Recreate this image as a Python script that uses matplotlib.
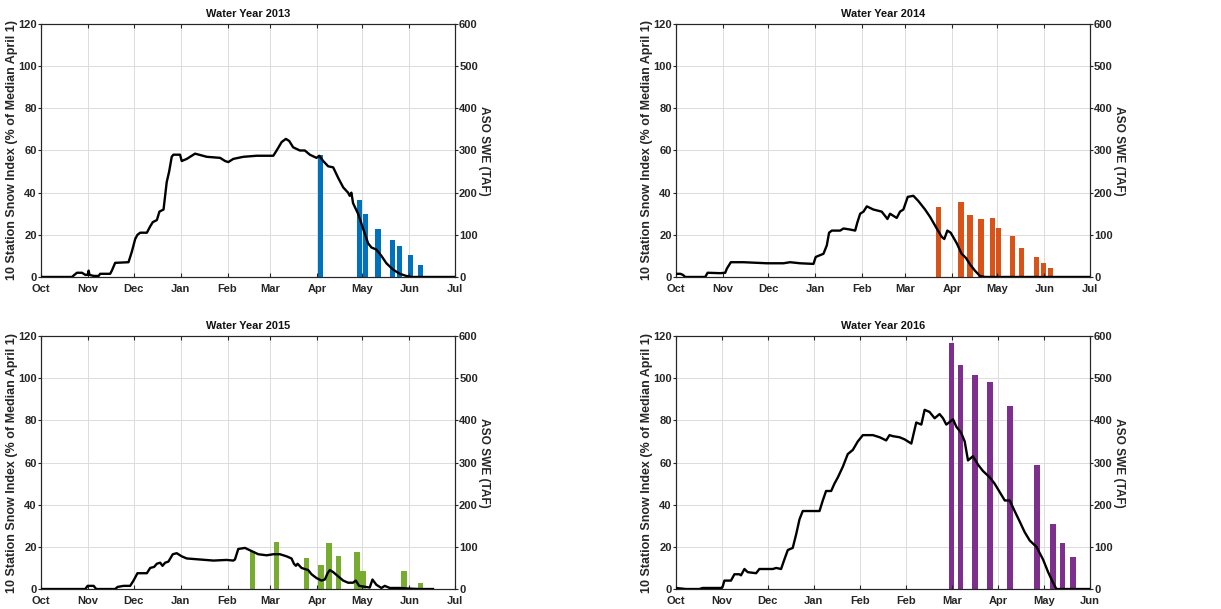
import matplotlib
matplotlib.use("Agg")
import matplotlib.pyplot as plt

plt.rcParams['font.family'] = ['Liberation Sans', 'DejaVu Sans']
plt.rcParams['font.weight'] = 'bold'

# ---------------- data (x = days since Oct 1) ----------------
titles = ["Water Year 2013", "Water Year 2014", "Water Year 2015", "Water Year 2016"]
bar_colors = ["#0072BD", "#D95319", "#77AC30", "#7E2F8E"]

month_ticks = [0, 31, 61, 92, 123, 151, 182, 212, 243, 273]
month_labels = ["Oct", "Nov", "Dec", "Jan", "Feb", "Mar", "Apr", "May", "Jun", "Jul"]
ticks_2016 = [11, 39, 67, 95, 123, 151, 179, 207, 235, 263]
labels_2016 = ["Oct", "Nov", "Dec", "Jan", "Feb", "Feb", "Mar", "Apr", "May", "Jun"]

idx_days_2013 = [0, 20.4, 22, 23.7, 27, 29.2, 30.7, 31.4, 32, 34.7, 38, 39, 45.6, 46.7, 48.9, 57.7,
                 59.9, 62.1, 63.6, 65.4, 69.8, 72, 73.7, 76.4, 78.1, 80.8, 82.9, 84.5, 86.2, 87.3,
                 91.7, 92.8, 96.1, 99.4, 101.6, 109.3, 118.1, 121.4, 123.5, 126.8, 133.4, 142.2,
                 153.2, 155.4, 158.7, 161.5, 163.7, 166.3, 170.7, 174, 177.3, 181.7, 183.5, 186.1,
                 189.4, 192.7, 196, 199.3, 202.5, 203.6, 204.7, 205.8, 209.1, 212.4, 215.7, 217.9,
                 221.2, 224.5, 227.8, 232.2, 236.6, 240.9, 244.2, 273]
idx_vals_2013 = [0, 0, 1, 2, 2, 1, 1, 3, 1, 0.5, 0.5, 1.5, 1.5, 3, 6.7, 7,
                 12, 18, 20, 21, 21, 24, 26, 27, 31, 32, 45, 50, 57, 58,
                 58, 55, 56, 57.5, 58.5, 57, 56.5, 55, 54.5, 56, 57, 57.5,
                 57.5, 60, 64, 65.5, 64.5, 61.5, 60, 60, 58, 56.5, 57.5, 55,
                 52.5, 52, 47, 42.5, 40, 38.5, 40, 35, 30, 23, 16, 14,
                 13, 10, 6.5, 3.5, 1.5, 0.5, 0, 0]
aso_days_2013 = [184.3, 210.2, 214.2, 222.3, 231.7, 236.6, 243.6, 250.4]
aso_taf_2013 = [290, 183, 149, 114, 87, 73, 51, 28]

idx_days_2014 = [0, 2.9, 4.6, 6.1, 19.3, 20.9, 29.2, 32.5, 33.6, 36.2, 44.6, 60, 70.9, 75.3, 81.9,
                 90.7, 92.2, 97.3, 99.5, 101, 102.8, 108.3, 110.5, 114.9, 118.2, 119.7, 121.5,
                 123.7, 125.9, 130.2, 135.7, 137.9, 139.5, 141.2, 145.6, 147.8, 150, 152.9, 156.6,
                 159.9, 164.3, 167.6, 172, 175.3, 177, 179, 181.2, 185.2, 188.4, 191.3, 193.9,
                 197.2, 200.5, 203.8, 273]
idx_vals_2014 = [1.5, 1.5, 1, 0, 0, 2, 1.8, 2, 4, 7, 7, 6.5, 6.5, 7, 6.5,
                 6.2, 9.5, 11, 15, 21, 22, 22, 23, 22.5, 22, 26, 30,
                 31, 33.5, 32, 31, 29, 27.5, 30, 28, 31, 32, 38, 38.5,
                 36, 32, 28.5, 23, 19, 18, 22, 21, 16, 11, 9, 6,
                 3, 0.5, 0, 0]
aso_days_2014 = [173.1, 188, 193.9, 201.2, 208.9, 212.8, 221.8, 228, 237.9, 242.3, 247.1]
aso_taf_2014 = [167, 179, 146, 138, 140, 116, 98, 69, 47, 33, 21]

idx_days_2015 = [0, 29.2, 30.7, 34.7, 36.4, 48.9, 50.5, 54.4, 58.8, 61, 63.6, 69.8, 72, 74.6, 76.4,
                 78.6, 80.1, 81.9, 84, 86.9, 89.5, 92.8, 96.1, 104.9, 113.7, 122.4, 126.8, 127.9,
                 130.1, 134.5, 138.9, 143.3, 148.8, 153.2, 157.6, 162, 165.2, 166.8, 168.1, 169.2,
                 171.8, 176.2, 178.4, 181.7, 185, 187.2, 189, 190.5, 192.7, 196, 199.3, 202.5,
                 205.8, 207.6, 209.8, 216.8, 218.6, 221.2, 224.5, 226.7, 230, 236.6, 243.1,
                 249.7, 258.5]
idx_vals_2015 = [0, 0, 1.5, 1.5, 0, 0, 1, 1.5, 1.5, 4, 7.5, 7.5, 10, 10.5, 12,
                 12.5, 11, 12.5, 13, 16.5, 17, 15.5, 14.5, 14, 13.5, 13.8, 13.5, 14,
                 19, 19.5, 18, 16.5, 16, 16.5, 16.5, 15.5, 14.5, 12, 11, 12,
                 10, 9, 7, 5.2, 4, 4.5, 7.5, 9, 8, 6, 4, 3,
                 3, 4, 1.5, 0.7, 4.5, 2, 0.5, 1.5, 0.5, 0.5, 0.2,
                 0, 0]
aso_days_2015 = [139.3, 155.4, 175.3, 184.6, 190, 196.2, 208.5, 212.4, 239.4, 250.4]
aso_taf_2015 = [89, 112, 74, 56, 108, 79, 87, 43, 43, 14]

idx_days_2016 = [11, 17.1, 21.2, 25.2, 27.3, 38.4, 39.4, 40.5, 44.5, 46.6, 49.6, 50.6, 52.7, 54.7,
                 59.8, 61.8, 70, 72, 75, 77, 79.1, 82.1, 84.2, 86.2, 88.2, 98.4, 100.4, 102.4,
                 105.5, 107.5, 109.6, 112.6, 115.6, 118.7, 121.7, 124.8, 130.9, 135, 139, 141,
                 143.1, 147.1, 150.2, 154.3, 157.3, 160.4, 162.4, 165.4, 168.5, 171.5, 173.6,
                 175.6, 179.7, 181.7, 184.7, 186.8, 188.8, 191.8, 194.9, 197.9, 202, 205, 208.1,
                 211.2, 214.2, 217.2, 220.3, 223.3, 226.4, 230.5, 234.5, 237.6, 240.6, 242.6, 263]
idx_vals_2016 = [0.5, 0, 0, 0, 0.5, 0.5, 1, 4, 4, 7, 7, 6.5, 9.5, 8,
                 7.5, 9.5, 9.5, 10, 9.5, 14, 18.5, 19.5, 26, 33, 37, 37, 42, 46.5,
                 46.5, 50, 53, 58, 64, 66, 70, 73, 73, 72, 70.5, 73,
                 72.5, 72, 71, 69, 79, 78, 85, 84, 81, 83, 81,
                 78, 80.5, 77, 74, 70, 61, 63, 59, 56, 53, 50, 46,
                 42, 42, 37, 32, 27, 23, 20, 14, 8, 3, 0, 0]
aso_days_2016 = [178.8, 184.3, 192.9, 202.0, 214.2, 230.9, 240.6, 246.3, 252.8]
aso_taf_2016 = [583, 532, 507, 492, 434, 294, 155, 110, 75]

panels = [
    (idx_days_2013, idx_vals_2013, aso_days_2013, aso_taf_2013, month_ticks, month_labels),
    (idx_days_2014, idx_vals_2014, aso_days_2014, aso_taf_2014, month_ticks, month_labels),
    (idx_days_2015, idx_vals_2015, aso_days_2015, aso_taf_2015, month_ticks, month_labels),
    (idx_days_2016, idx_vals_2016, aso_days_2016, aso_taf_2016, ticks_2016, labels_2016),
]

left_ticks = [0, 20, 40, 60, 80, 100, 120]
right_ticks = [0, 100, 200, 300, 400, 500, 600]

# ---------------- figure ----------------
fig = plt.figure(figsize=(12.21, 6.09), dpi=100)
positions = [
    [0.0336, 0.5452, 0.339, 0.4154],
    [0.5536, 0.5452, 0.339, 0.4154],
    [0.0336, 0.0328, 0.339, 0.4154],
    [0.5536, 0.0328, 0.339, 0.4154],
]
axis_col = "#262626"
tick_fs = 8

for i, (ld, lv, bd, bv, xt, xl) in enumerate(panels):
    ax2 = fig.add_axes(positions[i])              # back axes: bars + grid (right scale)
    ax = fig.add_axes(positions[i], sharex=ax2)   # front axes: line (left scale)
    ax.set_zorder(ax2.get_zorder() + 1)
    ax.patch.set_visible(False)

    ax2.bar(bd, bv, width=3.5, color=bar_colors[i], zorder=2, linewidth=0)
    ax2.set_ylim(0, 600)
    ax2.set_yticks(right_ticks)
    ax2.yaxis.tick_right()
    ax2.yaxis.set_label_position("right")
    ax2.set_ylabel("ASO SWE (TAF)", rotation=-90, labelpad=9, fontsize=8.6,
                   fontweight='bold', color=axis_col)
    ax2.grid(True, color="#dcdcdc", linewidth=0.7, zorder=0)
    ax2.set_axisbelow(True)

    ax.plot(ld, lv, color="black", linewidth=1.7, solid_joinstyle='round', zorder=3)
    ax.set_ylim(0, 120)
    ax.set_yticks(left_ticks)
    ax.set_xlim(xt[0], xt[-1])
    ax.set_xticks(xt)
    ax.set_xticklabels(xl)
    ax.set_ylabel("10 Station Snow Index (% of Median April 1)", fontsize=9,
                  fontweight='bold', color=axis_col, labelpad=0)
    ax.set_title(titles[i], fontsize=7.9, fontweight='bold', color="#111111", pad=5)

    ax.tick_params(axis='x', direction='in', length=3, top=True, bottom=True,
                   labelsize=tick_fs, colors=axis_col, pad=5)
    ax.tick_params(axis='y', direction='out', length=2.5, left=True, right=False,
                   labelsize=tick_fs, colors=axis_col, pad=0.5)
    ax2.tick_params(axis='y', direction='out', length=2, left=False, right=True,
                    labelsize=tick_fs, colors=axis_col, pad=1)
    ax2.tick_params(axis='x', bottom=False, labelbottom=False)
    for a in (ax, ax2):
        for s in a.spines.values():
            s.set_color(axis_col)
            s.set_linewidth(0.8)
    for lab in ax.get_xticklabels() + ax.get_yticklabels() + ax2.get_yticklabels():
        lab.set_fontweight('bold')

fig.savefig("out.png", dpi=100, facecolor="white")
